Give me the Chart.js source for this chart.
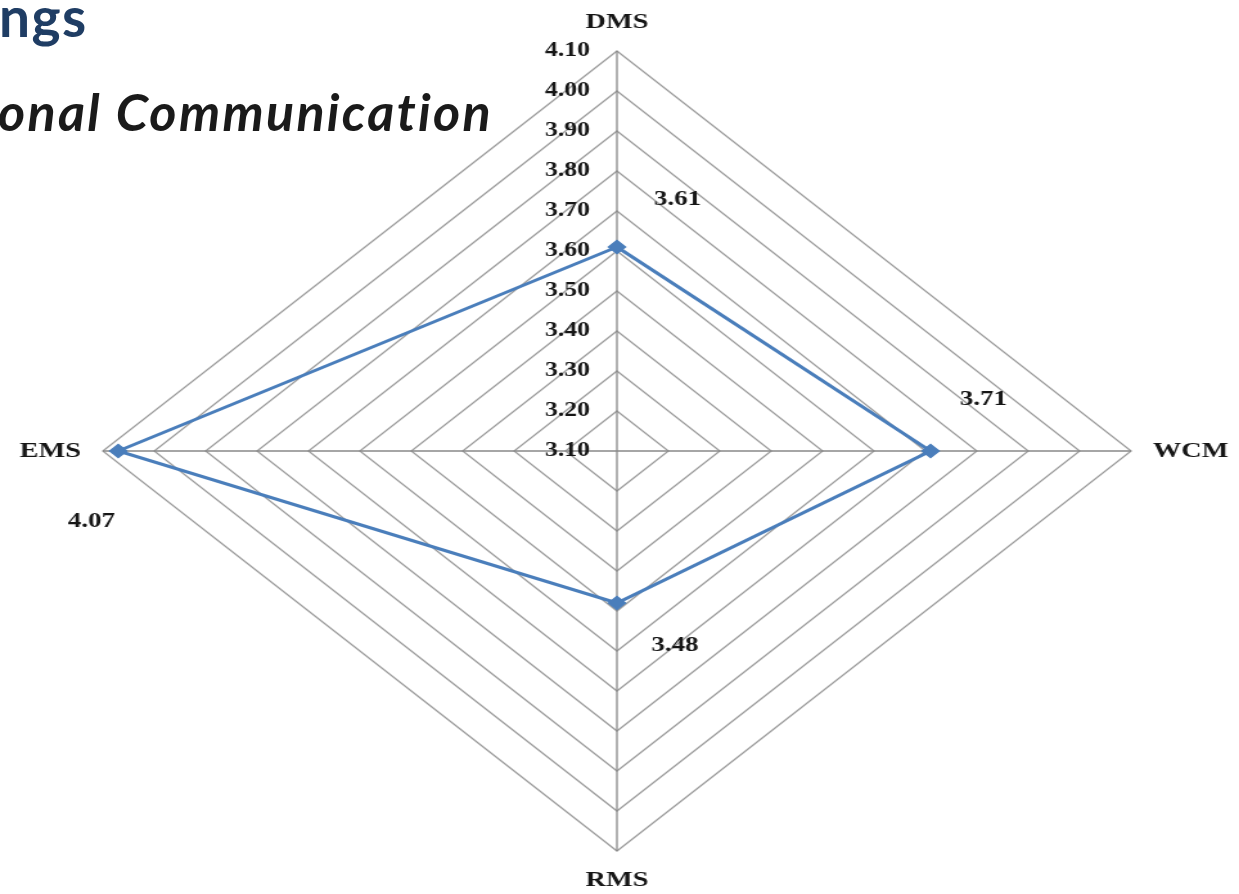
<!DOCTYPE html>
<html>
<head>
<meta charset="utf-8">
<title>Radar chart – mean scores</title>
<script src="https://cdn.jsdelivr.net/npm/chart.js@4.4.1/dist/chart.umd.min.js"></script>
<style>
  html, body { margin: 0; padding: 0; background: #ffffff; overflow: hidden; width: 1239px; height: 894px; }
  #wrap { position: relative; width: 1239px; height: 894px; }
  /* the radar is drawn on a narrower canvas and widened horizontally, giving the flat diamond */
  #stretch { position: absolute; left: 0; top: 0; width: 964px; height: 894px; transform: scaleX(1.2853); transform-origin: 0 0; }
  .head { position: absolute; left: 0; white-space: nowrap; font-family: Lato, "Open Sans", sans-serif; font-weight: 700; line-height: 1.2; font-variant-ligatures: none; font-feature-settings: "liga" 0; }
  #head1 { top: -17px; left: -1px; font-size: 55px; letter-spacing: 1.5px; color: #1F3D64; }
  #head2 { top: 80px; left: -2px; font-size: 52px; letter-spacing: 2.3px; font-style: italic; color: #1a1a1a; }
</style>
</head>
<body>
<div id="wrap">
  <div id="stretch"><canvas id="radar" width="964" height="894"></canvas></div>
  <div class="head" id="head1">ngs</div>
  <div class="head" id="head2">onal Communication</div>
</div>
<script>
// Axis names, clockwise from the top
const axisLabels = ['DMS', 'WCM', 'RMS', 'EMS'];
// Mean score on each axis
const meanScores = [3.61, 3.71, 3.48, 4.07];
// Rings of the radial scale
const tickValues = [3.10, 3.20, 3.30, 3.40, 3.50, 3.60, 3.70, 3.80, 3.90, 4.00, 4.10];
const tickLabels = ['3.10', '3.20', '3.30', '3.40', '3.50', '3.60', '3.70', '3.80', '3.90', '4.00', '4.10'];
const scoreLabels = ['3.61', '3.71', '3.48', '4.07'];

// Where each score label sits relative to its marker (canvas units)
const scoreLabelOffsets = [
  { dx: 47, dy: -47 },
  { dx: 41, dy: -51 },
  { dx: 45, dy: 43 },
  { dx: -21, dy: 71 }
];

const SERIF = '"Liberation Serif", "Times New Roman", "DejaVu Serif", serif';
const TEXT_COLOR = '#161616';
const LINE_BLUE = '#4A7EBB';

// Draws the tick numbers, the axis names and the score labels
const radarText = {
  id: 'radarText',
  afterDraw(chart) {
    const ctx = chart.ctx;
    const r = chart.scales.r;
    ctx.save();
    ctx.fillStyle = TEXT_COLOR;

    // ring values, right-aligned just left of the vertical axis
    ctx.font = 'bold 20px ' + SERIF;
    ctx.textAlign = 'right';
    ctx.textBaseline = 'middle';
    r.ticks.forEach((t, i) => {
      const d = r.getDistanceFromCenterForValue(t.value);
      ctx.fillText(tickLabels[i], r.xCenter - 21, r.yCenter - d);
    });

    // axis names outside the outer ring
    ctx.font = 'bold 22px ' + SERIF;
    axisLabels.forEach((name, i) => {
      const tip = r.getPointPosition(i, r.drawingArea);
      const dx = tip.x - r.xCenter;
      if (Math.abs(dx) < 1) {
        const p = r.getPointPosition(i, r.drawingArea + 29);
        ctx.textAlign = 'center';
        ctx.fillText(name, p.x, p.y);
      } else {
        const p = r.getPointPosition(i, r.drawingArea + 17);
        ctx.textAlign = dx > 0 ? 'left' : 'right';
        ctx.fillText(name, p.x, p.y);
      }
    });

    // score labels next to the markers
    ctx.font = 'bold 21px ' + SERIF;
    ctx.textAlign = 'center';
    const meta = chart.getDatasetMeta(0);
    meta.data.forEach((pt, i) => {
      const o = scoreLabelOffsets[i];
      ctx.fillText(scoreLabels[i], pt.x + o.dx, pt.y + o.dy);
    });
    ctx.restore();
  }
};

new Chart(document.getElementById('radar'), {
  type: 'radar',
  data: {
    labels: axisLabels,
    datasets: [{
      label: 'Mean score',
      data: meanScores,
      fill: false,
      borderColor: LINE_BLUE,
      borderWidth: 3,
      tension: 0,
      pointStyle: 'rectRot',
      pointRadius: 6.5,
      pointBackgroundColor: LINE_BLUE,
      pointBorderColor: LINE_BLUE,
      pointBorderWidth: 1.5
    }]
  },
  options: {
    responsive: false,
    animation: false,
    devicePixelRatio: 1,
    layout: { padding: { left: 80, right: 84, top: 51, bottom: 43 } },
    plugins: {
      legend: { display: false },
      tooltip: { enabled: false }
    },
    scales: {
      r: {
        min: tickValues[0],
        max: tickValues[tickValues.length - 1],
        afterBuildTicks(scale) {
          scale.ticks = tickValues.map(v => ({ value: v }));
        },
        ticks: { display: false },
        pointLabels: { display: false },
        grid: { circular: false, color: '#9c9c9c', lineWidth: 1.3 },
        angleLines: { display: true, color: '#888888', lineWidth: 1.3 }
      }
    }
  },
  plugins: [radarText]
});
</script>
</body>
</html>
